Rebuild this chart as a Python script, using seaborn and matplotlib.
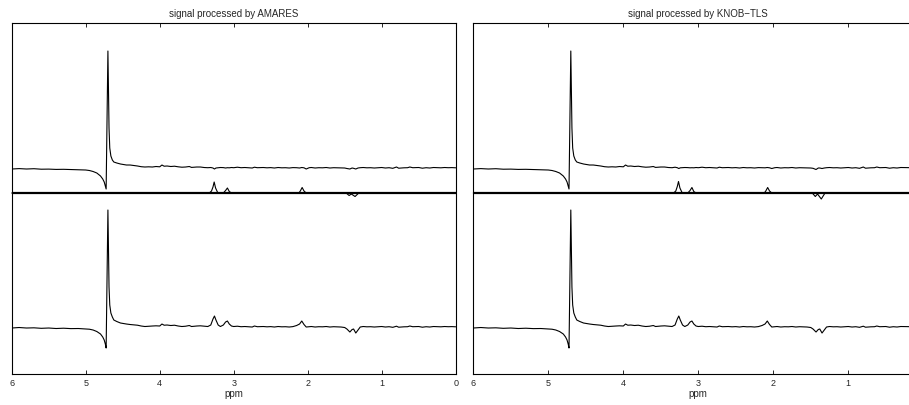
import matplotlib
matplotlib.use("Agg")
import matplotlib.pyplot as plt
import seaborn as sns
import numpy as np

#########################################
## Spectrum fitted by AMARES / KNOB-TLS ##
#########################################

# chemical shift grid (ppm), shared by the measured spectrum and residuals
ppm = [
    6.00, 5.90, 5.80, 5.70, 5.60, 5.50, 5.40, 5.30, 5.20, 5.10,
    5.00, 4.95, 4.90, 4.85, 4.80, 4.77, 4.75, 4.735, 4.724, 4.700,
    4.685, 4.675, 4.66, 4.64, 4.62, 4.58, 4.53, 4.45, 4.40, 4.35,
    4.30, 4.25, 4.20, 4.15, 4.10, 4.05, 4.00, 3.97, 3.94, 3.90,
    3.85, 3.80, 3.75, 3.70, 3.65, 3.60, 3.57, 3.50, 3.45, 3.40,
    3.35, 3.31, 3.28, 3.26, 3.24, 3.21, 3.18, 3.14, 3.11, 3.085,
    3.06, 3.03, 3.00, 2.95, 2.90, 2.85, 2.80, 2.75, 2.72, 2.68,
    2.60, 2.55, 2.50, 2.45, 2.40, 2.35, 2.30, 2.25, 2.20, 2.15,
    2.11, 2.08, 2.05, 2.02, 1.98, 1.95, 1.90, 1.85, 1.80, 1.75,
    1.70, 1.65, 1.60, 1.55, 1.50, 1.47, 1.43, 1.40, 1.38, 1.35,
    1.32, 1.29, 1.25, 1.20, 1.15, 1.10, 1.05, 1.00, 0.95, 0.90,
    0.85, 0.80, 0.77, 0.70, 0.65, 0.62, 0.58, 0.50, 0.45, 0.40,
    0.35, 0.30, 0.25, 0.20, 0.15, 0.10, 0.05, 0.00,
]

# measured spectrum (real part, a.u.)
signal = [
    -1.0, -0.5, -1.0, -0.8, -1.3, -1.0, -1.5, -1.2, -1.6, -1.5,
    -2.0, -2.2, -3.0, -4.5, -7.0, -10.0, -13.0, -17.0, -21.0, 117.0,
    40.0, 22.0, 14.0, 10.0, 7.0, 5.5, 4.0, 3.0, 2.5, 2.2,
    1.8, 1.0, 0.5, 0.8, 1.0, 1.2, 1.0, 3.0, 1.8, 2.0,
    1.5, 1.8, 1.0, 0.5, 0.8, 1.5, 0.5, 1.0, 1.2, 0.8,
    0.5, 2.0, 8.0, 11.0, 7.0, 2.0, 0.5, 2.0, 5.0, 6.0,
    3.0, 1.0, 0.5, 0.8, 0.3, 0.5, 0.2, 0.0, 1.0, 0.3,
    0.5, 0.2, 0.4, 0.0, 0.5, 0.2, 0.3, 0.0, 0.4, 1.5,
    3.0, 6.0, 2.5, 0.0, 0.3, 0.5, 0.0, 0.3, 0.2, 0.5,
    0.0, 0.3, 0.2, 0.0, -0.5, -2.0, -5.0, -2.5, -2.0, -6.0,
    -3.0, 0.0, 0.5, 0.2, 0.3, 0.0, 0.2, 0.5, 0.0, 0.3,
    -0.3, 0.8, -0.2, 0.2, 0.3, 1.0, 0.3, 0.5, -0.2, 0.3,
    0.0, 0.5, 0.4, 0.2, 0.5, 0.3, 0.4, 0.2,
]

# residual after AMARES fit
resid_amares = [
    -1.0, -0.6, -1.0, -0.7, -1.2, -1.1, -1.4, -1.3, -1.5, -1.6,
    -2.0, -2.5, -3.5, -5.0, -8.0, -11.0, -14.0, -18.0, -21.0, 117.0,
    40.0, 20.0, 12.0, 8.0, 6.0, 5.0, 4.0, 3.0, 3.0, 2.5,
    2.0, 1.3, 1.0, 1.2, 1.0, 1.5, 1.2, 3.0, 1.8, 2.0,
    1.5, 1.8, 1.2, 0.8, 1.0, 1.5, 0.6, 1.0, 1.0, 0.5,
    0.3, 0.5, 0.0, -1.0, 0.0, 0.3, 0.5, 0.4, 0.0, 0.3,
    0.2, 0.5, 0.3, 0.8, 0.3, 0.5, 0.2, 0.0, 0.8, 0.3,
    0.5, 0.2, 0.4, 0.0, 0.5, 0.2, 0.3, 0.0, 0.4, 0.3,
    0.0, 0.5, 0.2, -1.0, 0.3, 0.5, 0.0, 0.3, 0.2, 0.5,
    0.0, 0.3, 0.2, 0.0, 0.0, -0.5, -1.0, 0.0, -0.3, -1.0,
    0.0, 0.3, 0.5, 0.2, 0.3, 0.0, 0.2, 0.5, 0.0, 0.3,
    -0.3, 1.0, -0.2, 0.2, 0.3, 1.0, 0.3, 0.5, -0.2, 0.3,
    0.0, 0.5, 0.4, 0.2, 0.5, 0.3, 0.4, 0.2,
]

# residual after KNOB-TLS fit
resid_knob = [
    -1.0, -0.6, -1.0, -0.7, -1.2, -1.1, -1.4, -1.3, -1.5, -1.6,
    -2.0, -2.5, -3.5, -5.0, -8.0, -11.0, -14.0, -18.0, -21.0, 117.0,
    40.0, 20.0, 12.0, 8.0, 6.0, 5.0, 4.0, 3.0, 3.0, 2.5,
    2.0, 1.3, 1.0, 1.2, 1.0, 1.5, 1.2, 3.0, 1.8, 2.0,
    1.5, 1.8, 1.2, 0.8, 1.0, 1.5, 0.6, 1.0, 1.0, 0.5,
    0.3, 0.8, 0.3, -0.5, 0.2, 0.3, 0.5, 0.4, 0.2, 0.3,
    0.2, 0.5, 0.3, 0.8, 0.3, 0.5, 0.2, 0.0, 0.8, 0.3,
    0.5, 0.2, 0.4, 0.0, 0.5, 0.2, 0.3, 0.0, 0.4, 0.3,
    0.2, 0.5, 0.2, -0.5, 0.3, 0.5, 0.0, 0.3, 0.2, 0.5,
    0.0, 0.3, 0.2, 0.0, 0.0, -0.3, -1.5, 0.0, 0.0, -0.5,
    0.0, 0.3, 0.5, 0.2, 0.3, 0.0, 0.2, 0.5, 0.0, 0.3,
    -0.3, 1.0, -0.2, 0.2, 0.3, 1.0, 0.3, 0.5, -0.2, 0.3,
    0.0, 0.5, 0.4, 0.2, 0.5, 0.3, 0.4, 0.2,
]

# fitted metabolite components (sum), drawn on the zero line
fit_ppm = [6.00, 3.33, 3.30, 3.28, 3.264, 3.245, 3.22, 3.21, 3.14, 3.11, 3.085,
           3.06, 3.03, 2.12, 2.10, 2.075, 2.05, 2.02, 1.48, 1.44, 1.41, 1.36,
           1.31, 0.00]
fit_amares = [0.0, 0.0, 2.0, 6.0, 11.0, 5.0, 1.0, 0.0, 0.0, 2.5, 5.0,
              1.5, 0.0, 0.0, 2.0, 5.5, 2.0, 0.0, 0.0, -2.5, -1.0, -3.5,
              0.0, 0.0]
fit_knob = [0.0, 0.0, 2.0, 6.5, 11.5, 5.0, 1.0, 0.0, 0.0, 2.5, 5.5,
            1.5, 0.0, 0.0, 2.0, 5.5, 2.0, 0.0, 0.0, -3.5, -1.0, -6.0,
            0.0, 0.0]

titles = ["signal processed by AMARES", "signal processed by KNOB\u2212TLS"]
xtick_vals = [6, 5, 4, 3, 2, 1, 0]
# the right panel runs past the figure edge, its "0" label is not shown
xtick_labels = [["6", "5", "4", "3", "2", "1", "0"],
                ["6", "5", "4", "3", "2", "1", ""]]

UPPER_OFFSET = 25
LOWER_OFFSET = -134

sns.set_style("white")
plt.rcParams["font.family"] = ["Liberation Sans", "DejaVu Sans"]

fig = plt.figure(figsize=(9.09, 4.05), dpi=100)
positions = [[0.0129, 0.0765, 0.4884, 0.8667],
             [0.5207, 0.0765, 0.4950, 0.8667]]

x = np.array(ppm)
for pos, title, resid, fit, labels in zip(positions, titles,
                                          [resid_amares, resid_knob],
                                          [fit_amares, fit_knob],
                                          xtick_labels):
    ax = fig.add_axes(pos)
    ax.axhline(0, color="black", lw=1.6, zorder=1)
    sns.lineplot(x=x, y=np.array(resid) + UPPER_OFFSET, ax=ax, color="black",
                 lw=0.8, estimator=None, sort=False)
    sns.lineplot(x=np.array(fit_ppm), y=np.array(fit), ax=ax, color="black",
                 lw=0.8, estimator=None, sort=False, clip_on=False)
    sns.lineplot(x=x, y=np.array(signal) + LOWER_OFFSET, ax=ax, color="black",
                 lw=0.8, estimator=None, sort=False)
    ax.set_xlim(6, 0)
    ax.set_ylim(-181, 170)
    ax.set_xticks(xtick_vals)
    ax.set_xticklabels(labels)
    ax.set_yticks([])
    ax.tick_params(axis="x", direction="in", top=True, bottom=True,
                   length=3, width=0.7, labelsize=6.5, pad=3.5)
    for sp in ax.spines.values():
        sp.set_linewidth(0.8)
        sp.set_color("black")
    ax.set_title(title, fontsize=7, pad=4)
    ax.set_xlabel("ppm", fontsize=7, labelpad=1)
    ax.set_ylabel("")

fig.savefig("out.png", dpi=100)
